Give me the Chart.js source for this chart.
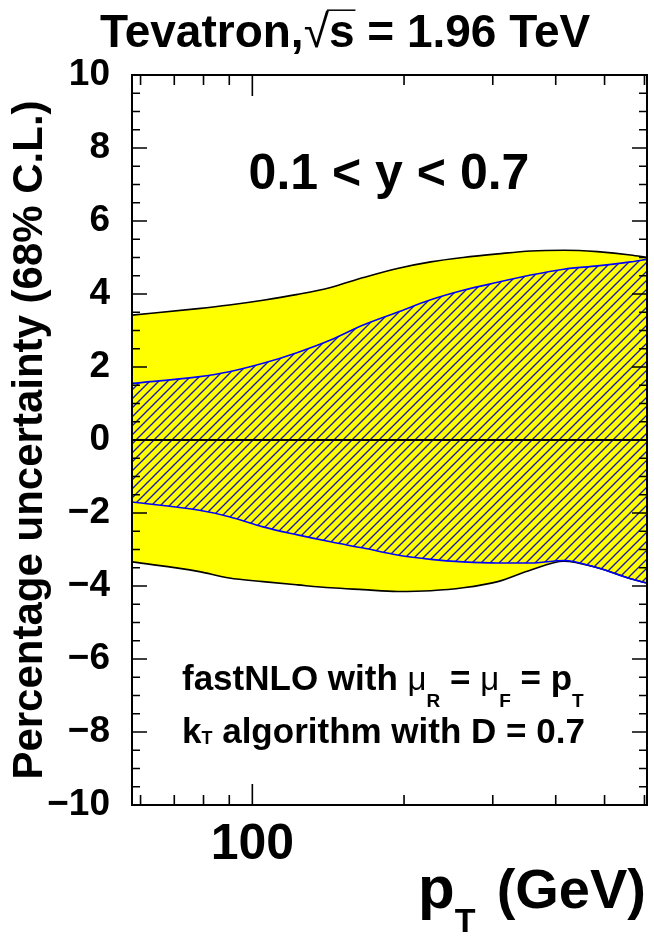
<!DOCTYPE html>
<html>
<head>
<meta charset="utf-8">
<script src="https://cdn.jsdelivr.net/npm/chart.js@4.4.0/dist/chart.umd.min.js"></script>
<style>
  html, body { margin: 0; padding: 0; background: #fff; }
</style>
</head>
<body>
<canvas id="myChart" width="654" height="939"></canvas>
<script>
// pT bin positions (GeV)
const ptValues = [57.7, 78, 90, 105, 123, 143, 166, 194, 226, 262, 307, 357, 415, 484, 563, 607];

// total (yellow) band
const outerUpper = [3.42, 3.60, 3.70, 3.83, 3.99, 4.18, 4.45, 4.70, 4.88, 5.00, 5.10, 5.18, 5.20, 5.16, 5.07, 5.00];
const outerLower = [-3.34, -3.60, -3.78, -3.88, -3.97, -4.05, -4.10, -4.15, -4.13, -4.05, -3.88, -3.56, -3.32, -3.50, -3.80, -3.92];

// hatched band
const innerUpper = [1.55, 1.73, 1.87, 2.10, 2.40, 2.74, 3.15, 3.50, 3.84, 4.10, 4.32, 4.52, 4.68, 4.77, 4.88, 4.95];
const innerLower = [-1.70, -1.92, -2.10, -2.38, -2.60, -2.79, -2.96, -3.15, -3.27, -3.34, -3.37, -3.37, -3.30, -3.50, -3.80, -3.92];

// axis ticks
const xTickValues = [60, 70, 80, 90, 100, 200, 300, 400, 500, 600];
const xLabelled = [100];
const yMin = -10, yMax = 10;

const FONT = "'Liberation Sans', Arial, Helvetica, sans-serif";
Chart.defaults.font.family = FONT;
Chart.defaults.color = '#000';

function pts(ys) {
    return ptValues.map((x, i) => ({ x: x, y: ys[i] }));
}

// blue diagonal hatching on yellow
function hatchPattern() {
    const c = document.createElement('canvas');
    const n = 9;
    c.width = n; c.height = n;
    const g = c.getContext('2d');
    g.fillStyle = '#ffff00';
    g.fillRect(0, 0, n, n);
    g.strokeStyle = '#1c1cb4';
    g.lineWidth = 1.4;
    g.beginPath();
    g.moveTo(-1, n + 1); g.lineTo(n + 1, -1);
    g.moveTo(-2, 2); g.lineTo(2, -2);
    g.moveTo(n - 2, n + 2); g.lineTo(n + 2, n - 2);
    g.stroke();
    return g.createPattern(c, 'repeat');
}

// draw text pieces left to right, returns end x
function drawRich(ctx, x, y, parts) {
    let cx = x;
    for (const p of parts) {
        ctx.font = (p.w || 'bold') + ' ' + p.s + 'px ' + FONT;
        ctx.fillText(p.t, cx, y + (p.dy || 0));
        cx += ctx.measureText(p.t).width;
    }
    return cx;
}

const frameTicks = {
    id: 'frameTicks',
    afterDatasetsDraw(chart) {
        const { ctx, chartArea: a, scales: { x, y } } = chart;
        ctx.save();
        ctx.strokeStyle = '#000';

        // zero line
        ctx.lineWidth = 2;
        const y0 = y.getPixelForValue(0);
        ctx.beginPath();
        ctx.moveTo(a.left, y0); ctx.lineTo(a.right, y0);
        ctx.stroke();

        // y ticks, both sides
        ctx.lineWidth = 1.6;
        ctx.beginPath();
        for (let v = yMin; v <= yMax; v += 0.5) {
            const py = y.getPixelForValue(v);
            const len = (v % 2 === 0) ? 15 : 8;
            ctx.moveTo(a.left, py); ctx.lineTo(a.left + len, py);
            ctx.moveTo(a.right, py); ctx.lineTo(a.right - len, py);
        }
        // x ticks, top and bottom
        xTickValues.forEach(v => {
            const px = x.getPixelForValue(v);
            const len = xLabelled.includes(v) ? 21 : 10;
            ctx.moveTo(px, a.bottom); ctx.lineTo(px, a.bottom - len);
            ctx.moveTo(px, a.top); ctx.lineTo(px, a.top + len);
        });
        ctx.stroke();

        // frame
        ctx.lineWidth = 2;
        ctx.strokeRect(a.left, a.top, a.right - a.left, a.bottom - a.top);
        ctx.restore();
    }
};

const texts = {
    id: 'texts',
    afterDraw(chart) {
        const { ctx, chartArea: a } = chart;
        ctx.save();
        ctx.fillStyle = '#000';
        ctx.strokeStyle = '#000';
        ctx.textAlign = 'left';
        ctx.textBaseline = 'alphabetic';

        // title with sqrt(s)
        const tx = 100, ty = 47, ts = 46;
        let cx = drawRich(ctx, tx, ty, [{ t: 'Tevatron,', s: ts }]);
        ctx.font = 'normal ' + ts + 'px ' + FONT;
        ctx.fillText('\u221A', cx, ty);
        const rootEnd = cx + ctx.measureText('\u221A').width;
        cx = drawRich(ctx, rootEnd, ty, [{ t: 's', s: ts }]);
        ctx.lineWidth = 1.5;
        ctx.beginPath();
        ctx.moveTo(rootEnd - 2, ty - ts * 0.8);
        ctx.lineTo(cx + 1, ty - ts * 0.8);
        ctx.stroke();
        drawRich(ctx, cx, ty, [{ t: ' = 1.96 TeV', s: ts }]);

        // rapidity range
        ctx.textAlign = 'center';
        ctx.font = 'bold 50px ' + FONT;
        ctx.fillText('0.1 < y < 0.7', 389, 189);
        ctx.textAlign = 'left';

        // scale and algorithm notes
        drawRich(ctx, 182, 690, [
            { t: 'fastNLO with ', s: 35 },
            { t: '\u03BC', s: 33, w: 'normal' },
            { t: 'R', s: 19, dy: 17 },
            { t: ' = ', s: 35 },
            { t: '\u03BC', s: 33, w: 'normal' },
            { t: 'F', s: 19, dy: 17 },
            { t: ' = p', s: 35 },
            { t: 'T', s: 19, dy: 17 }
        ]);
        drawRich(ctx, 182, 743, [
            { t: 'k', s: 35 },
            { t: 'T', s: 18, dy: 1 },
            { t: ' algorithm with D = 0.7', s: 35 }
        ]);

        // x axis title
        const by = 908;
        drawRich(ctx, 418, by, [{ t: 'p', s: 60 }, { t: 'T', s: 34, dy: 24 }]);
        ctx.textAlign = 'right';
        ctx.font = 'bold 56px ' + FONT;
        ctx.fillText('(GeV)', a.right - 1, by);
        ctx.restore();
    }
};

const ctx = document.getElementById('myChart').getContext('2d');
const hatch = hatchPattern();

const myChart = new Chart(ctx, {
    type: 'line',
    data: {
        datasets: [
            {
                label: 'hatched upper',
                data: pts(innerUpper),
                borderColor: '#0000ff',
                borderWidth: 1.6,
                backgroundColor: hatch,
                fill: '+1'
            },
            {
                label: 'hatched lower',
                data: pts(innerLower),
                borderColor: '#0000ff',
                borderWidth: 1.6,
                fill: false
            },
            {
                label: 'total upper',
                data: pts(outerUpper),
                borderColor: '#000',
                borderWidth: 1.6,
                backgroundColor: '#ffff00',
                fill: '+1'
            },
            {
                label: 'total lower',
                data: pts(outerLower),
                borderColor: '#000',
                borderWidth: 1.6,
                fill: false
            }
        ]
    },
    options: {
        responsive: false,
        animation: false,
        devicePixelRatio: 1,
        elements: {
            point: { radius: 0 },
            line: { cubicInterpolationMode: 'monotone' }
        },
        layout: { padding: { top: 75, right: 7, left: 0, bottom: 0 } },
        plugins: {
            legend: { display: false },
            tooltip: { enabled: false },
            filler: { drawTime: 'beforeDatasetsDraw' }
        },
        scales: {
            x: {
                type: 'logarithmic',
                min: 57.7,
                max: 607,
                grid: { display: false },
                border: { display: false },
                afterBuildTicks: (s) => { s.ticks = xTickValues.map(v => ({ value: v })); },
                afterFit: (s) => { s.height = 134; },
                ticks: {
                    autoSkip: false,
                    maxRotation: 0,
                    padding: 2,
                    font: { size: 50, weight: 'bold' },
                    callback: (v) => xLabelled.includes(v) ? String(v) : ''
                }
            },
            y: {
                min: yMin,
                max: yMax,
                grid: { display: false },
                border: { display: false },
                afterFit: (s) => { s.width = 132; },
                ticks: {
                    stepSize: 2,
                    padding: 14,
                    font: { size: 37, weight: 'bold' },
                    callback: (v) => v < 0 ? '\u2212' + Math.abs(v) : String(v)
                },
                title: {
                    display: true,
                    text: 'Percentage uncertainty (68% C.L.)',
                    font: { size: 42, weight: 'bold' },
                    padding: { top: 5, bottom: 0 }
                }
            }
        }
    },
    plugins: [frameTicks, texts]
});
</script>
</body>
</html>
